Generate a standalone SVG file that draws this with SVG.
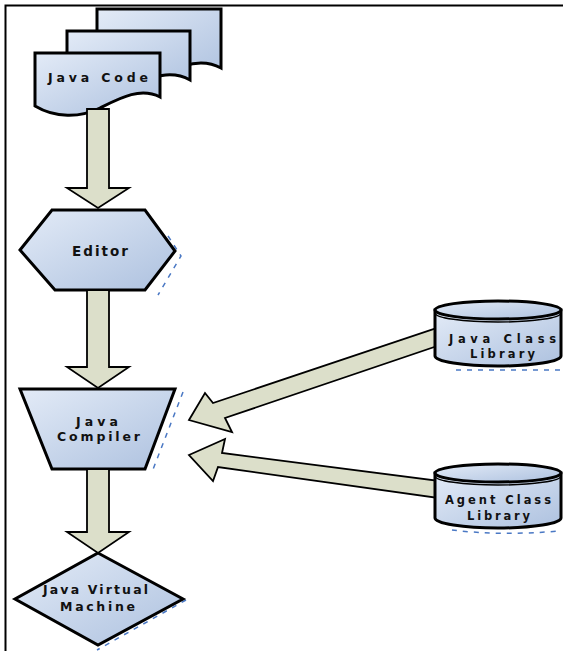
<svg xmlns="http://www.w3.org/2000/svg" width="563" height="651" viewBox="0 0 563 651">
<defs>
<linearGradient id="g" x1="0" y1="0" x2="1" y2="1">
<stop offset="0" stop-color="#e3ebf7"/>
<stop offset="1" stop-color="#adc1df"/>
</linearGradient>
<style>
.shape{fill:url(#g);stroke:#000;stroke-width:3;stroke-linejoin:miter}
.rim{fill:none;stroke:#000;stroke-width:1.5}
.arrow{fill:#dcdfca;stroke:#000;stroke-width:1.8;stroke-linejoin:miter}
.shadow{fill:none;stroke:#4a78c4;stroke-width:1.5;stroke-dasharray:5 6}
.lbl{font-family:"DejaVu Sans","Liberation Sans",Arial,sans-serif;font-weight:bold;font-size:12.5px;fill:#111;text-anchor:middle}
.sm{font-size:11.5px}
</style>
</defs>
<rect x="5.5" y="5.5" width="560" height="652" fill="#fff" stroke="#000" stroke-width="2"/>

<g id="java-code">
<path class="shape" d="M97,9 H221 V68 C203,58 183,64 165,74 C145,84 120,86 97,76 Z"/>
<path class="shape" d="M67,31 H190 V80 C172,70 152,76 132,86 C112,96 88,98 67,88 Z"/>
<path class="shape" d="M35,53 H160 V97 C140,87 120,98 100,108 C80,118 55,118 35,106 Z"/>
<text class="lbl" x="98" y="82" textLength="100" lengthAdjust="spacing">Java Code</text>
</g>

<g id="editor">
<polyline class="shadow" points="168,236 181,256 158,295"/>
<polygon class="shape" points="52,210 145,210 175,251 145,290 55,290 20,250"/>
<text class="lbl" x="100" y="256" style="font-size:13.5px" textLength="56" lengthAdjust="spacing">Editor</text>
</g>

<g id="java-compiler">
<line class="shadow" x1="183" y1="392" x2="152" y2="472"/>
<polygon class="shape" points="20,389 175,389 145,469 52,469"/>
<text class="lbl" x="97" y="426" textLength="42" lengthAdjust="spacing">Java</text>
<text class="lbl" x="98.5" y="441" textLength="83" lengthAdjust="spacing">Compiler</text>
</g>

<g id="jvm">
<line class="shadow" x1="186" y1="600" x2="97" y2="650"/>
<polygon class="shape" points="98,553 183,599 98,645 15,599"/>
<text class="lbl" x="95.5" y="594" textLength="105" lengthAdjust="spacing">Java Virtual</text>
<text class="lbl" x="97.5" y="611" textLength="75" lengthAdjust="spacing">Machine</text>
</g>

<g id="connectors">
<polygon class="arrow" points="87,109 109,109 109,188 129,188 98,208 67,188 87,188"/>
<polygon class="arrow" points="87,290 109,290 109,367 129,367 98,388 67,367 87,367"/>
<polygon class="arrow" points="87,469 109,469 109,532 129,532 98,553 67,532 87,532"/>
<polygon class="arrow" points="189,420 205,393 213,403 440,327 446,343 225,418 232,432"/>
<polygon class="arrow" points="189,455 225,439 222,453 440,481 438,498 218,467 213,481"/>
</g>

<g id="java-class-library">
<line class="shadow" x1="456" y1="370" x2="560" y2="370"/>
<path class="shape" d="M435,310 V356 A63,10 0 0 0 561,356 V310 Z"/>
<ellipse class="shape" cx="498" cy="310" rx="63" ry="9"/>
<path class="rim" d="M435,313 A63,9 0 0 0 561,313"/>
<text class="lbl sm" x="502.5" y="343" textLength="107" lengthAdjust="spacing">Java Class</text>
<text class="lbl sm" x="502.5" y="358" textLength="65" lengthAdjust="spacing">Library</text>
</g>

<g id="agent-class-library">
<path class="shadow" d="M452,530 Q500,536 560,531"/>
<path class="shape" d="M435,473 V518 A63,10 0 0 0 561,518 V473 Z"/>
<ellipse class="shape" cx="498" cy="473" rx="63" ry="9"/>
<path class="rim" d="M435,476 A63,9 0 0 0 561,476"/>
<text class="lbl sm" x="498" y="504" textLength="106" lengthAdjust="spacing">Agent Class</text>
<text class="lbl sm" x="498.5" y="520" textLength="63" lengthAdjust="spacing">Library</text>
</g>
</svg>
